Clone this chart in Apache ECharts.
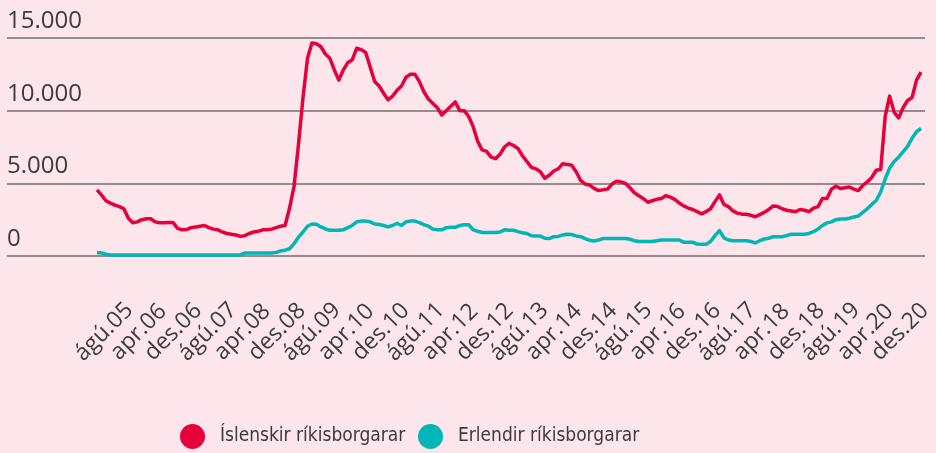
<!DOCTYPE html>
<html>
<head>
<meta charset="utf-8">
<script src="https://cdn.jsdelivr.net/npm/echarts@6/dist/echarts.min.js"></script>
<style>
  html, body { margin: 0; padding: 0; background: #fce5eb; }
  #chart { width: 936px; height: 453px; }
</style>
</head>
<body>
<div id="chart"></div>
<script>
// monthly series, ágú 2005 - des 2020
var monthNames = ['jan', 'feb', 'mar', 'apr', 'maí', 'jún', 'júl', 'ágú', 'sep', 'okt', 'nóv', 'des'];
var startYear = 2005;
var startMonth = 7; // ágú
var monthCount = 185;

var icelandic = [
  4550, 4200, 3800, 3640, 3500, 3400, 3250, 2600, 2290, 2350,
  2500, 2560, 2560, 2350, 2290, 2290, 2300, 2300, 1900, 1800,
  1820, 1950, 2000, 2050, 2100, 1950, 1850, 1800, 1650, 1550,
  1500, 1450, 1350, 1400, 1550, 1650, 1700, 1800, 1800, 1850,
  1950, 2050, 2100, 3300, 4800, 7700, 10900, 13600, 14650, 14600,
  14400, 13900, 13600, 12800, 12100, 12800, 13300, 13500, 14300, 14200,
  14000, 13000, 12000, 11700, 11200, 10750, 11000, 11400, 11700, 12300,
  12500, 12500, 12000, 11300, 10800, 10500, 10200, 9700, 10000, 10300,
  10600, 10000, 10000, 9600, 8900, 7900, 7300, 7200, 6800, 6700,
  7000, 7500, 7750, 7600, 7400, 6900, 6500, 6100, 6000, 5800,
  5350, 5550, 5850, 6000, 6350, 6300, 6250, 5800, 5200, 4950,
  4880, 4650, 4500, 4550, 4600, 4950, 5150, 5100, 5000, 4700,
  4350, 4150, 3950, 3700, 3800, 3900, 3950, 4150, 4050, 3900,
  3650, 3450, 3300, 3200, 3050, 2900, 3050, 3250, 3740, 4200,
  3550, 3400, 3100, 2950, 2880, 2870, 2800, 2700, 2850, 3000,
  3200, 3440, 3400, 3250, 3150, 3100, 3050, 3200, 3150, 3050,
  3300, 3400, 3960, 3960, 4600, 4800, 4650, 4700, 4750, 4600,
  4500, 4850, 5100, 5400, 5900, 5950, 9600, 11000, 9900, 9500,
  10200, 10700, 10900, 12100, 12650
];

var foreign = [
  220, 220, 120, 70, 70, 70, 70, 70, 70, 70,
  70, 70, 70, 70, 70, 70, 70, 70, 70, 70,
  70, 70, 70, 70, 70, 70, 70, 70, 70, 70,
  70, 70, 70, 200, 200, 200, 200, 200, 200, 200,
  250, 350, 400, 500, 850, 1300, 1650, 2050, 2200, 2180,
  2000, 1860, 1770, 1770, 1770, 1800, 1950, 2100, 2350, 2400,
  2400, 2350, 2200, 2170, 2100, 2000, 2100, 2250, 2100, 2350,
  2400, 2400, 2300, 2150, 2050, 1850, 1800, 1800, 1950, 1970,
  1970, 2100, 2150, 2150, 1800, 1700, 1620, 1620, 1620, 1620,
  1650, 1800, 1780, 1770, 1680, 1600, 1550, 1400, 1370, 1370,
  1220, 1200, 1330, 1350, 1450, 1500, 1480, 1380, 1330, 1200,
  1080, 1030, 1100, 1200, 1200, 1200, 1200, 1200, 1200, 1150,
  1050, 1000, 1000, 1000, 1000, 1050, 1100, 1100, 1100, 1100,
  1100, 950, 950, 950, 820, 800, 800, 1000, 1400, 1750,
  1250, 1100, 1050, 1050, 1050, 1050, 1000, 900, 1050, 1170,
  1220, 1330, 1330, 1330, 1400, 1500, 1500, 1500, 1500, 1550,
  1670, 1850, 2100, 2280, 2350, 2500, 2540, 2540, 2600, 2680,
  2750, 3000, 3250, 3550, 3820, 4400, 5300, 6050, 6500, 6800,
  7170, 7550, 8100, 8550, 8780
];

var seriesNames = ['Íslenskir ríkisborgarar', 'Erlendir ríkisborgarar'];
var seriesColors = ['#e6003c', '#00b6b6'];

var months = [];
for (var i = 0; i < monthCount; i++) {
  var m = (startMonth + i) % 12;
  var y = startYear + Math.floor((startMonth + i) / 12);
  months.push(monthNames[m] + '.' + String(y).slice(2));
}
// every 8th month gets a label
var tickLabels = months.filter(function (d, i) { return i % 8 === 0; });

function thousands(v) {
  return String(v).replace(/\B(?=(\d{3})+(?!\d))/g, '.');
}

// one legend per item so each sits where it does in the original
function legendFor(name, left) {
  return {
    left: left,
    top: 419,
    itemWidth: 25,
    itemHeight: 25,
    icon: 'circle',
    data: [name],
    textStyle: {
      fontSize: 19,
      color: '#3c3c3c',
      fontFamily: 'Liberation Sans Narrow, DejaVu Sans Condensed, sans-serif',
      padding: [0, 0, 0, 10]
    }
  };
}

var chart = echarts.init(document.getElementById('chart'));
var option = {
  backgroundColor: '#fce5eb',
  animation: false,
  textStyle: {fontFamily: 'Open Sans'},
  grid: [
    {left: 7, right: 11, top: 38, bottom: 197},   // gridlines + y labels
    {left: 97, right: 15, top: 38, bottom: 197},  // the lines
    {left: 104, right: 36, top: 38, bottom: 197}  // x labels
  ],
  xAxis: [
    {gridIndex: 0, type: 'category', data: [''], show: false},
    {gridIndex: 1, type: 'category', data: months, boundaryGap: false, show: false},
    {
      gridIndex: 2,
      type: 'category',
      data: tickLabels,
      boundaryGap: false,
      axisLine: {show: false},
      axisTick: {show: false},
      splitLine: {show: false},
      axisLabel: {
        interval: 0,
        rotate: 45,
        align: 'center',
        verticalAlign: 'middle',
        margin: 76,
        fontSize: 23,
        color: '#3c3c3c'
      }
    }
  ],
  yAxis: [
    {
      gridIndex: 0,
      type: 'value',
      min: 0,
      max: 15000,
      interval: 5000,
      axisLine: {show: false},
      axisTick: {show: false},
      splitLine: {lineStyle: {color: '#968c8e', width: 2}},
      axisLabel: {
        inside: true,
        margin: 0,
        showMinLabel: true,
        showMaxLabel: true,
        verticalAlign: 'bottom',
        padding: [0, 0, 5, 0],
        fontSize: 24,
        color: '#3c3c3c',
        formatter: thousands
      }
    },
    {gridIndex: 1, type: 'value', min: 0, max: 15000, show: false},
    {gridIndex: 2, type: 'value', min: 0, max: 15000, show: false}
  ],
  legend: [
    legendFor(seriesNames[0], 175),
    legendFor(seriesNames[1], 413)
  ],
  series: [
    {
      name: seriesNames[0],
      type: 'line',
      xAxisIndex: 1,
      yAxisIndex: 1,
      data: icelandic,
      showSymbol: false,
      color: seriesColors[0],
      lineStyle: {width: 3.5, join: 'round'}
    },
    {
      name: seriesNames[1],
      type: 'line',
      xAxisIndex: 1,
      yAxisIndex: 1,
      data: foreign,
      showSymbol: false,
      color: seriesColors[1],
      lineStyle: {width: 3.5, join: 'round'}
    }
  ]
};
chart.setOption(option);
</script>
</body>
</html>
